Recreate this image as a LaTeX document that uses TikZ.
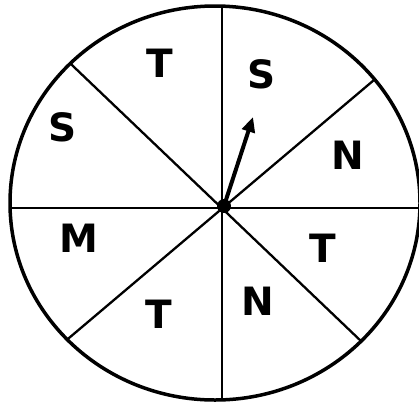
\documentclass[tikz,border=0pt]{standalone}
\usepackage{fontspec}
\setmainfont{DejaVu Sans}
\usetikzlibrary{arrows.meta}
\tikzset{
  rim/.style={line width=3.5pt},
  spoke/.style={line width=2.3pt, shorten <=-20pt, shorten >=-20pt},
  pointer/.style={line width=4pt, -{Triangle[length=15pt, width=13pt]}},
  letter/.style={font=\fontsize{39}{42}\selectfont\bfseries, inner sep=0pt},
}
\begin{document}
\begin{tikzpicture}[x=1pt, y=-1pt]
\useasboundingbox (0,0) rectangle (419,402);
\clip (0,0) rectangle (419,402);
% wheel centre and spoke ends
\coordinate (c) at (215,203);
\coordinate (hub) at (222,208);
\coordinate (top) at (222,0);
\coordinate (bot) at (222,402);
\coordinate (lft) at (0,208);
\coordinate (rgt) at (430,208);
\coordinate (ul) at (74,67);
\coordinate (lr) at (362,342);
\coordinate (ur) at (374,80);
\coordinate (ll) at (69,338);
% spokes, kept inside the rim
\begin{scope}
  \clip (c) ellipse [x radius=205, y radius=197];
  \draw[line width=2.3pt] (top) -- (bot);
  \draw[line width=2.3pt] (lft) -- (rgt);
  \draw[spoke] (ul) -- (lr);
  \draw[spoke] (ur) -- (ll);
\end{scope}
% rim
\draw[rim] (c) ellipse [x radius=205, y radius=197];
% pointer
\coordinate (pin) at (224,206);
\coordinate (tip) at (253,117);
\draw[pointer] (pin) -- (tip);
\fill (pin) circle (7);
% sector letters
\node[letter] (t1) at (160,63) {T};
\node[letter] (s1) at (261.5,74) {S};
\node[letter] (n1) at (348,155) {N};
\node[letter] (t2) at (323,248) {T};
\node[letter] (n2) at (258,301) {N};
\node[letter] (t3) at (159,314) {T};
\node[letter] (m1) at (78.5,238.5) {M};
\node[letter] (s2) at (63,127) {S};
\end{tikzpicture}
\end{document}
